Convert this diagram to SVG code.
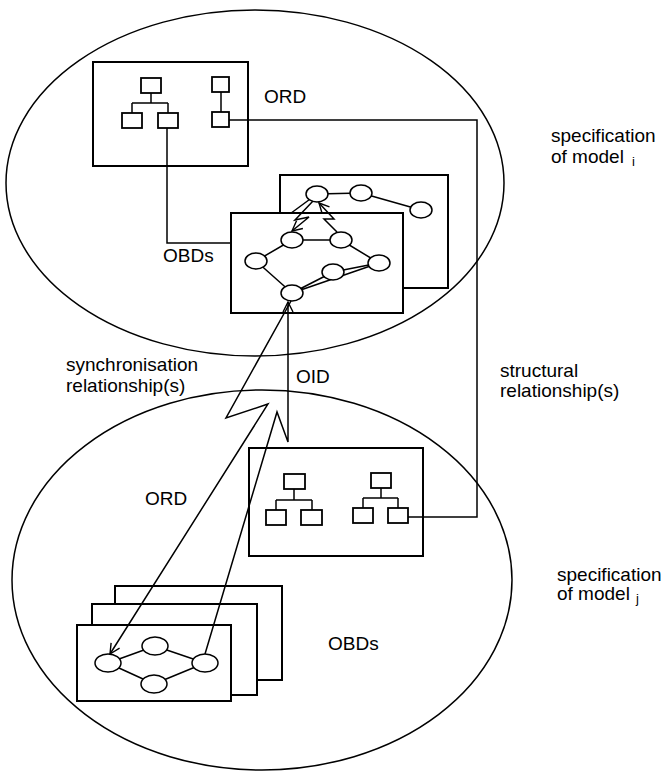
<svg xmlns="http://www.w3.org/2000/svg" width="664" height="771" viewBox="0 0 664 771">
  <defs>
    <style>
      .region{fill:none;stroke:#000;stroke-width:1.5}
      .frame{fill:#fff;stroke:#000;stroke-width:2}
      .cls{fill:#fff;stroke:#000;stroke-width:1.8}
      .obj{fill:#fff;stroke:#000;stroke-width:1.5}
      .ln{fill:none;stroke:#000;stroke-width:1.5}
      .lbl{font-family:"Liberation Sans",Arial,sans-serif;font-size:19px;fill:#000}
      .sub{font-size:13px}
    </style>
    <marker id="head" markerWidth="12" markerHeight="12" refX="11" refY="6" orient="auto" markerUnits="userSpaceOnUse">
      <path d="M1,1 L11,6 L1,11" fill="none" stroke="#000" stroke-width="1.4"/>
    </marker>
  </defs>

  <rect width="664" height="771" fill="#fff"/>

  <!-- model regions -->
  <g id="model-i">
    <ellipse class="region" cx="255" cy="183" rx="249" ry="173"/>
    <text class="lbl" x="551" y="142">specification</text>
    <text class="lbl" x="551" y="163">of model<tspan class="sub" dx="8" dy="3">i</tspan></text>
  </g>
  <g id="model-j">
    <ellipse class="region" cx="262" cy="580" rx="250" ry="190"/>
    <text class="lbl" x="557" y="581">specification</text>
    <text class="lbl" x="557" y="600">of model<tspan class="sub" dx="6" dy="3">j</tspan></text>
  </g>

  <!-- ORD of model i -->
  <g id="ord-i">
    <rect class="frame" x="93" y="62" width="155" height="104"/>
    <path class="ln" d="M151,93 V103 M132,103 H168 M132,103 V113 M168,103 V113 M221,92 V112"/>
    <rect class="cls" x="141" y="78" width="20" height="15"/>
    <rect class="cls" x="122" y="113" width="20" height="15"/>
    <rect class="cls" x="158" y="113" width="20" height="15"/>
    <rect class="cls" x="212" y="77" width="17" height="15"/>
    <rect class="cls" x="212" y="112" width="17" height="15"/>
    <text class="lbl" x="264" y="103">ORD</text>
  </g>

  <!-- OBDs of model i (back sheet) -->
  <g id="obd-i-back">
    <rect class="frame" x="280" y="175" width="168" height="113"/>
    <path class="ln" d="M317,194 L361,193 M361,193 L421,210 M317,194 L283,219"/>
    <ellipse class="obj" cx="317" cy="194" rx="11" ry="8"/>
    <ellipse class="obj" cx="361" cy="193" rx="11" ry="8"/>
    <ellipse class="obj" cx="421" cy="210" rx="11" ry="8"/>
  </g>

  <!-- OBDs of model i (front sheet) -->
  <g id="obd-i-front">
    <rect class="frame" x="231" y="213" width="172" height="100"/>
    <path class="ln" d="M292,240 L341,240 M292,240 L256,261 M341,240 L379,263 M256,261 L292,293 M292,293 L333,272 M333,272 L379,263 M292,293 L379,263"/>
    <ellipse class="obj" cx="292" cy="240" rx="11" ry="8"/>
    <ellipse class="obj" cx="341" cy="240" rx="11" ry="8"/>
    <ellipse class="obj" cx="256" cy="261" rx="11" ry="8"/>
    <ellipse class="obj" cx="379" cy="263" rx="11" ry="8"/>
    <ellipse class="obj" cx="333" cy="272" rx="11" ry="8"/>
    <ellipse class="obj" cx="292" cy="293" rx="11" ry="8"/>
    <text class="lbl" x="163" y="262">OBDs</text>
  </g>

  <!-- ORD of model j -->
  <g id="ord-j">
    <rect class="frame" x="249" y="448" width="174" height="108"/>
    <path class="ln" d="M294,489 V500 M276,500 H312 M276,500 V510 M312,500 V510 M381,488 V498 M363,498 H398 M363,498 V508 M398,498 V508"/>
    <rect class="cls" x="284" y="474" width="21" height="15"/>
    <rect class="cls" x="266" y="510" width="20" height="15"/>
    <rect class="cls" x="301" y="510" width="21" height="15"/>
    <rect class="cls" x="371" y="473" width="20" height="15"/>
    <rect class="cls" x="353" y="508" width="20" height="15"/>
    <rect class="cls" x="388" y="508" width="20" height="15"/>
    <text class="lbl" x="145" y="505">ORD</text>
  </g>

  <!-- OBDs of model j (stack of three sheets) -->
  <g id="obd-j">
    <rect class="frame" x="115" y="586" width="167" height="94"/>
    <rect class="frame" x="92" y="604" width="165" height="91"/>
    <rect class="frame" x="77" y="625" width="154" height="76"/>
    <path class="ln" d="M108,663 L155,646 M108,663 L154,684 M155,646 L205,663 M154,684 L205,663"/>
    <ellipse class="obj" cx="108" cy="663" rx="13" ry="9"/>
    <ellipse class="obj" cx="155" cy="646" rx="13" ry="9"/>
    <ellipse class="obj" cx="154" cy="684" rx="13" ry="9"/>
    <ellipse class="obj" cx="205" cy="663" rx="13" ry="9"/>
    <text class="lbl" x="328" y="650">OBDs</text>
  </g>

  <!-- relationships -->
  <g id="connectors">
    <!-- structural: ORD i to OBDs i, ORD i to ORD j -->
    <path class="ln" d="M167,128 V243 H231"/>
    <path class="ln" d="M229,120 H477 V517 H408"/>
    <!-- synchronisation inside OBDs i -->
    <path class="ln" d="M313,201 L295,220 L309,217 L292,231" marker-end="url(#head)"/>
    <path class="ln" d="M337,232 L324,219 L334,219 L319,203" marker-end="url(#head)"/>
    <!-- synchronisation between OBDs i and OBDs j -->
    <path class="ln" d="M291,301 L226,418 L268,404 L110,654" marker-end="url(#head)"/>
    <path class="ln" d="M205,654 L277,412 L288,442 V302" marker-end="url(#head)"/>
  </g>

  <g id="labels">
    <text class="lbl" x="66" y="371">synchronisation</text>
    <text class="lbl" x="66" y="392">relationship(s)</text>
    <text class="lbl" x="296" y="383">OID</text>
    <text class="lbl" x="500" y="377">structural</text>
    <text class="lbl" x="500" y="397">relationship(s)</text>
  </g>
</svg>
